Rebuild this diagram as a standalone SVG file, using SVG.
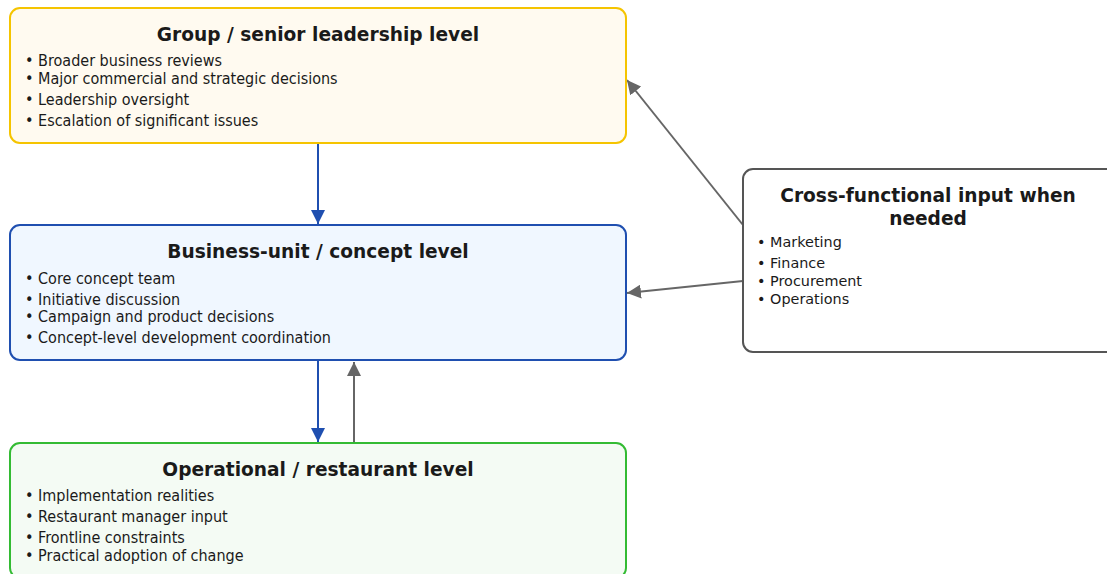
<svg xmlns="http://www.w3.org/2000/svg" width="1107" height="574" viewBox="0 0 1107 574">
  <style>
    .title { font-family: "DejaVu Sans", sans-serif; font-weight: bold; font-size: 18.6px; fill: #1a1a1a; text-anchor: middle; }
    .item { font-family: "DejaVu Sans Condensed", "DejaVu Sans", sans-serif; font-stretch: condensed; font-size: 16px; fill: #1a1a1a; }
    .item2 { font-family: "DejaVu Sans", sans-serif; font-size: 14.4px; fill: #1a1a1a; }
    .box { stroke-width: 2; }
    .down { stroke: #1f4fb0; stroke-width: 2; fill: none; }
    .up { stroke: #666666; stroke-width: 2; fill: none; }
  </style>
  <defs>
    <marker id="headGray" viewBox="0 0 10 10" refX="10" refY="5" markerWidth="14" markerHeight="14" markerUnits="userSpaceOnUse" orient="auto">
      <path d="M0,0 L10,5 L0,10 z" fill="#666666"/>
    </marker>
    <marker id="headBlue" viewBox="0 0 10 10" refX="10" refY="5" markerWidth="14" markerHeight="14" markerUnits="userSpaceOnUse" orient="auto">
      <path d="M0,0 L10,5 L0,10 z" fill="#1f4fb0"/>
    </marker>
  </defs>

  <!-- connectors -->
  <g id="connectors">
    <line class="down" x1="318" y1="143" x2="318" y2="224" marker-end="url(#headBlue)"/>
    <line class="down" x1="318" y1="361" x2="318" y2="442" marker-end="url(#headBlue)"/>
    <line class="up" x1="354" y1="443" x2="354" y2="362" marker-end="url(#headGray)"/>
    <line class="up" x1="743" y1="225" x2="627" y2="80" marker-end="url(#headGray)"/>
    <line class="up" x1="743" y1="281" x2="627" y2="293" marker-end="url(#headGray)"/>
  </g>

  <!-- senior leadership -->
  <g id="node-group">
    <rect class="box" x="10" y="8" width="616" height="135" rx="10" fill="#fffaf0" stroke="#f5c400"/>
    <text class="title" x="318" y="41">Group / senior leadership level</text>
    <text class="item" x="25" y="66">• Broader business reviews</text>
    <text class="item" x="25" y="84">• Major commercial and strategic decisions</text>
    <text class="item" x="25" y="105">• Leadership oversight</text>
    <text class="item" x="25" y="126">• Escalation of significant issues</text>
  </g>

  <!-- business unit -->
  <g id="node-concept">
    <rect class="box" x="10" y="225" width="616" height="135" rx="10" fill="#f0f7ff" stroke="#1f4fb0"/>
    <text class="title" x="318" y="258">Business-unit / concept level</text>
    <text class="item" x="25" y="284">• Core concept team</text>
    <text class="item" x="25" y="305">• Initiative discussion</text>
    <text class="item" x="25" y="322">• Campaign and product decisions</text>
    <text class="item" x="25" y="343">• Concept-level development coordination</text>
  </g>

  <!-- operational -->
  <g id="node-operational">
    <rect class="box" x="10" y="443" width="616" height="135" rx="10" fill="#f4fbf4" stroke="#33bb33"/>
    <text class="title" x="318" y="476">Operational / restaurant level</text>
    <text class="item" x="25" y="501">• Implementation realities</text>
    <text class="item" x="25" y="522">• Restaurant manager input</text>
    <text class="item" x="25" y="543">• Frontline constraints</text>
    <text class="item" x="25" y="561">• Practical adoption of change</text>
  </g>

  <!-- cross-functional -->
  <g id="node-crossfunctional">
    <rect class="box" x="743" y="169" width="380" height="183" rx="10" fill="#ffffff" stroke="#555555"/>
    <text class="title" x="928" y="202">Cross-functional input when</text>
    <text class="title" x="928" y="225">needed</text>
    <text class="item2" x="757" y="247">• Marketing</text>
    <text class="item2" x="757" y="268">• Finance</text>
    <text class="item2" x="757" y="286">• Procurement</text>
    <text class="item2" x="757" y="304">• Operations</text>
  </g>
</svg>
